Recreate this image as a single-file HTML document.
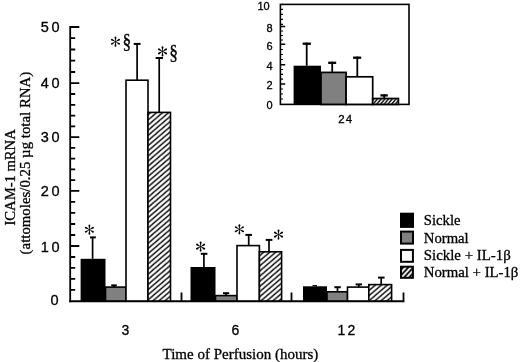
<!DOCTYPE html>
<html><head><meta charset="utf-8">
<style>
html,body{margin:0;padding:0;background:#fff;}
body{width:520px;height:362px;overflow:hidden;}
svg{display:block;filter:grayscale(1);}
text{fill:#000;stroke:#000;stroke-width:0.3px;}
.sans{font-family:"Liberation Sans",sans-serif;}
.serif{font-family:"Liberation Serif",serif;}
</style></head><body>
<svg width="520" height="362" viewBox="0 0 520 362">
<defs>
<pattern id="h" patternUnits="userSpaceOnUse" width="6.0" height="5.14" patternTransform="translate(148.8,114.2)">
<rect width="6.0" height="5.14" fill="#fff"/>
<path d="M-6.0,10.28 L12.0,-5.14 M-6.0,5.14 L6.0,-5.14 M0,10.28 L12.0,0" stroke="#000" stroke-width="1.45"/>
</pattern>
<pattern id="h2" patternUnits="userSpaceOnUse" width="5.0" height="5.5" patternTransform="translate(401.9,268.9)">
<rect width="5.0" height="5.5" fill="#fff"/>
<path d="M-5.0,11.0 L10.0,-5.5 M-5.0,5.5 L5.0,-5.5 M0,11.0 L10.0,0" stroke="#000" stroke-width="1.8"/>
</pattern>
<pattern id="h3" patternUnits="userSpaceOnUse" width="3.7" height="4.4" patternTransform="translate(373.5,99.3)">
<rect width="3.7" height="4.4" fill="#fff"/>
<path d="M-3.7,8.8 L7.4,-4.4 M-3.7,4.4 L3.7,-4.4 M0,8.8 L7.4,0" stroke="#000" stroke-width="1.4"/>
</pattern>
<path id="arm" d="M0,0.3 L-0.42,-1.6 L-0.92,-4 Q-1,-5.15 0,-5.15 Q1,-5.15 0.92,-4 L0.42,-1.6 Z"/>
<g id="ast"><circle r="0.9"/><use href="#arm"/><use href="#arm" transform="rotate(60)"/><use href="#arm" transform="rotate(120)"/><use href="#arm" transform="rotate(180)"/><use href="#arm" transform="rotate(240)"/><use href="#arm" transform="rotate(300)"/></g>
</defs>
<rect width="520" height="362" fill="#fff"/>

<!-- main axes -->
<g stroke="#000" stroke-width="1.8" fill="none">
<path d="M70.2,26.1 V302.3"/>
<path d="M69.3,301.3 H404.4" stroke-width="2"/>
<path d="M70.2,27 H79.3 M70.2,83.2 H79.3 M70.2,137.2 H79.3 M70.2,190.9 H79.3 M70.2,246 H79.3"/>
<path d="M70.2,38.2 H75.2 M70.2,49.5 H75.2 M70.2,60.7 H75.2 M70.2,72.0 H75.2 M70.2,94.0 H75.2 M70.2,104.8 H75.2 M70.2,115.6 H75.2 M70.2,126.4 H75.2 M70.2,147.9 H75.2 M70.2,158.7 H75.2 M70.2,169.4 H75.2 M70.2,180.2 H75.2 M70.2,201.9 H75.2 M70.2,212.9 H75.2 M70.2,224.0 H75.2 M70.2,235.0 H75.2 M70.2,257.0 H75.2 M70.2,267.9 H75.2 M70.2,278.9 H75.2 M70.2,289.8 H75.2"/>
<path d="M181.5,292.5 V301.3 M291.5,292.5 V301.3 M403.5,292.5 V301.3"/>
</g>

<!-- error bars main -->
<g stroke="#000" fill="none">
<path d="M92.6,258.8 V237.4" stroke-width="1.7"/><path d="M90.0,237.4 H95.8" stroke-width="2"/>
<path d="M114.0,287.1 V285.4" stroke-width="1.7"/><path d="M111.2,285.4 H116.8" stroke-width="2"/>
<path d="M137.1,80.2 V43.9" stroke-width="1.7"/><path d="M133.7,43.9 H140.6" stroke-width="2"/>
<path d="M159.2,112.4 V58.0" stroke-width="1.7"/><path d="M155.6,58.0 H163.0" stroke-width="2"/>
<path d="M203.9,267 V253.8" stroke-width="1.7"/><path d="M200.8,253.8 H207.4" stroke-width="2"/>
<path d="M226,295.6 V293.2" stroke-width="1.7"/><path d="M223,293.2 H229.2" stroke-width="2"/>
<path d="M248.7,245.6 V234.9" stroke-width="1.7"/><path d="M245.4,234.9 H252.0" stroke-width="2"/>
<path d="M269.0,251.8 V239.9" stroke-width="1.7"/><path d="M265.7,239.9 H272.4" stroke-width="2"/>
<path d="M312.5,285.7 H317" stroke-width="1.3"/>
<path d="M337.5,291.8 V287.2" stroke-width="1.7"/><path d="M334.4,287.2 H340.8" stroke-width="2"/>
<path d="M358.8,287.1 V284.4" stroke-width="1.7"/><path d="M355.6,284.4 H362.0" stroke-width="2"/>
<path d="M381.2,284.6 V277.6" stroke-width="1.7"/><path d="M378,277.6 H384.6" stroke-width="2"/>
</g>
<!-- bars main -->
<g stroke="#000" stroke-width="1.6">
<rect x="80.6" y="258.8" width="24.9" height="42.2" fill="#000" stroke="none"/>
<rect x="105.5" y="287.1" width="20.5" height="13.9" fill="#808080"/>
<rect x="126" y="80.2" width="22.0" height="220.8" fill="#fff"/>
<rect x="148" y="112.4" width="22.5" height="188.6" fill="url(#h)"/>
<rect x="190.5" y="267" width="25.0" height="34.0" fill="#000" stroke="none"/>
<rect x="215.5" y="295.6" width="21.5" height="5.4" fill="#808080"/>
<rect x="237" y="245.6" width="22.4" height="55.4" fill="#fff"/>
<rect x="259.4" y="251.8" width="22.2" height="49.2" fill="url(#h)"/>
<rect x="303" y="286.3" width="24.0" height="14.7" fill="#000" stroke="none"/>
<rect x="327" y="291.8" width="20.5" height="9.2" fill="#808080"/>
<rect x="347.5" y="287.1" width="21.3" height="13.9" fill="#fff"/>
<rect x="368.8" y="284.6" width="22.8" height="16.4" fill="url(#h)"/>
</g>

<!-- inset -->
<g stroke="#000" fill="none">
<rect x="280.4" y="4.4" width="128.6" height="100" fill="#fff" stroke-width="1.6"/>
<path d="M280.4,26.5 H285.2 M280.4,44.3 H285.2 M280.4,64.7 H285.2 M280.4,84 H285.2" stroke-width="1.5"/>
<path d="M280.4,9.4 H283 M280.4,14.4 H283 M280.4,19.4 H283 M280.4,24.4 H283 M280.4,31 H283 M280.4,35.5 H283 M280.4,40 H283 M280.4,49.5 H283 M280.4,54.5 H283 M280.4,59.5 H283 M280.4,69.5 H283 M280.4,74.3 H283 M280.4,79.1 H283 M280.4,89 H283 M280.4,94 H283 M280.4,99 H283" stroke-width="1.2"/>
<path d="M306.7,65.7 V42.6" stroke-width="1.8"/><path d="M302.6,43.7 H310.9" stroke-width="2.3"/>
<path d="M332.2,72.4 V61.7" stroke-width="1.8"/><path d="M328.2,62.800000000000004 H336.2" stroke-width="2.3"/>
<path d="M357.3,76.8 V56.6" stroke-width="1.8"/><path d="M353.1,57.7 H361.2" stroke-width="2.3"/>
<path d="M384.2,98.5 V94.3" stroke-width="1.8"/><path d="M380.4,95.39999999999999 H387.8" stroke-width="2.3"/>
</g>
<g stroke="#000" stroke-width="1.7">
<rect x="293.6" y="65.7" width="27.4" height="38.7" fill="#000" stroke="none"/>
<rect x="321" y="72.4" width="25.1" height="32.0" fill="#808080"/>
<rect x="346.1" y="76.8" width="26.6" height="27.6" fill="#fff"/>
<rect x="372.7" y="98.5" width="25.7" height="5.9" fill="url(#h3)"/>
</g>

<!-- legend -->
<rect x="400" y="212.7" width="14" height="15.2" fill="#000"/>
<g stroke="#000" stroke-width="2">
<rect x="401" y="231.6" width="12" height="12" fill="#808080"/>
<rect x="401" y="249.9" width="11.9" height="11.9" fill="#fff"/>
<rect x="401" y="266.7" width="11.9" height="11.1" fill="url(#h2)"/>
</g>
<g class="serif" font-size="14.7">
<text x="423.8" y="224.5">Sickle</text>
<text x="423.8" y="242.6">Normal</text>
<text x="423.8" y="259.6" textLength="86.9" lengthAdjust="spacingAndGlyphs">Sickle + IL-1β</text>
<text x="423.8" y="276.8" textLength="94.6" lengthAdjust="spacingAndGlyphs">Normal + IL-1β</text>
</g>

<!-- y labels -->
<g class="sans" font-size="14.5" letter-spacing="2.6">
<text x="40.8" y="31.8">50</text>
<text x="40.8" y="88.1">40</text>
<text x="40.8" y="142">30</text>
<text x="40.8" y="195.8">20</text>
<text x="40.8" y="251.8">10</text>
<text x="50.4" y="304.6">0</text>
</g>
<!-- x labels -->
<g class="sans" font-size="14" text-anchor="middle">
<text x="125.3" y="335">3</text>
<text x="235.3" y="335">6</text>
<text x="347.6" y="335" letter-spacing="2.3">12</text>
</g>
<text class="serif" font-size="14.8" x="162.5" y="358.5" textLength="155.8" lengthAdjust="spacingAndGlyphs">Time of Perfusion (hours)</text>

<!-- inset labels -->
<g class="sans" font-size="11" text-anchor="end">
<text x="269.7" y="9.6">10</text>
<text x="272.6" y="31.9">8</text>
<text x="272.6" y="50.2">6</text>
<text x="272.6" y="69.6">4</text>
<text x="272.6" y="88.9">2</text>
<text x="272.6" y="109.2">0</text>
</g>
<text class="sans" font-size="11.5" x="338.2" y="122.5" letter-spacing="1.2">24</text>

<!-- y axis titles -->
<text class="serif" font-size="14" transform="translate(14.5,225.5) rotate(-90)" textLength="96.2" lengthAdjust="spacingAndGlyphs">ICAM-1 mRNA</text>
<text class="serif" font-size="14.6" transform="translate(29.8,254.4) rotate(-90)" textLength="182.6" lengthAdjust="spacingAndGlyphs">(attomoles/0.25 µg total RNA)</text>

<!-- symbols -->
<g fill="#000">
<use href="#ast" x="89.4" y="229.7"/>
<use href="#ast" x="115.5" y="41.7"/>
<use href="#ast" x="162.5" y="51.4"/>
<use href="#ast" x="200.6" y="246.6"/>
<use href="#ast" x="239.4" y="229.3"/>
<use href="#ast" x="278.5" y="234.6"/>
</g>
<g class="serif" font-size="19.7">
<text transform="translate(122.4,48.2) scale(0.89,1.1)">§</text>
<text transform="translate(169.3,58.9) scale(0.89,1.1)">§</text>
</g>
</svg>
</body></html>
